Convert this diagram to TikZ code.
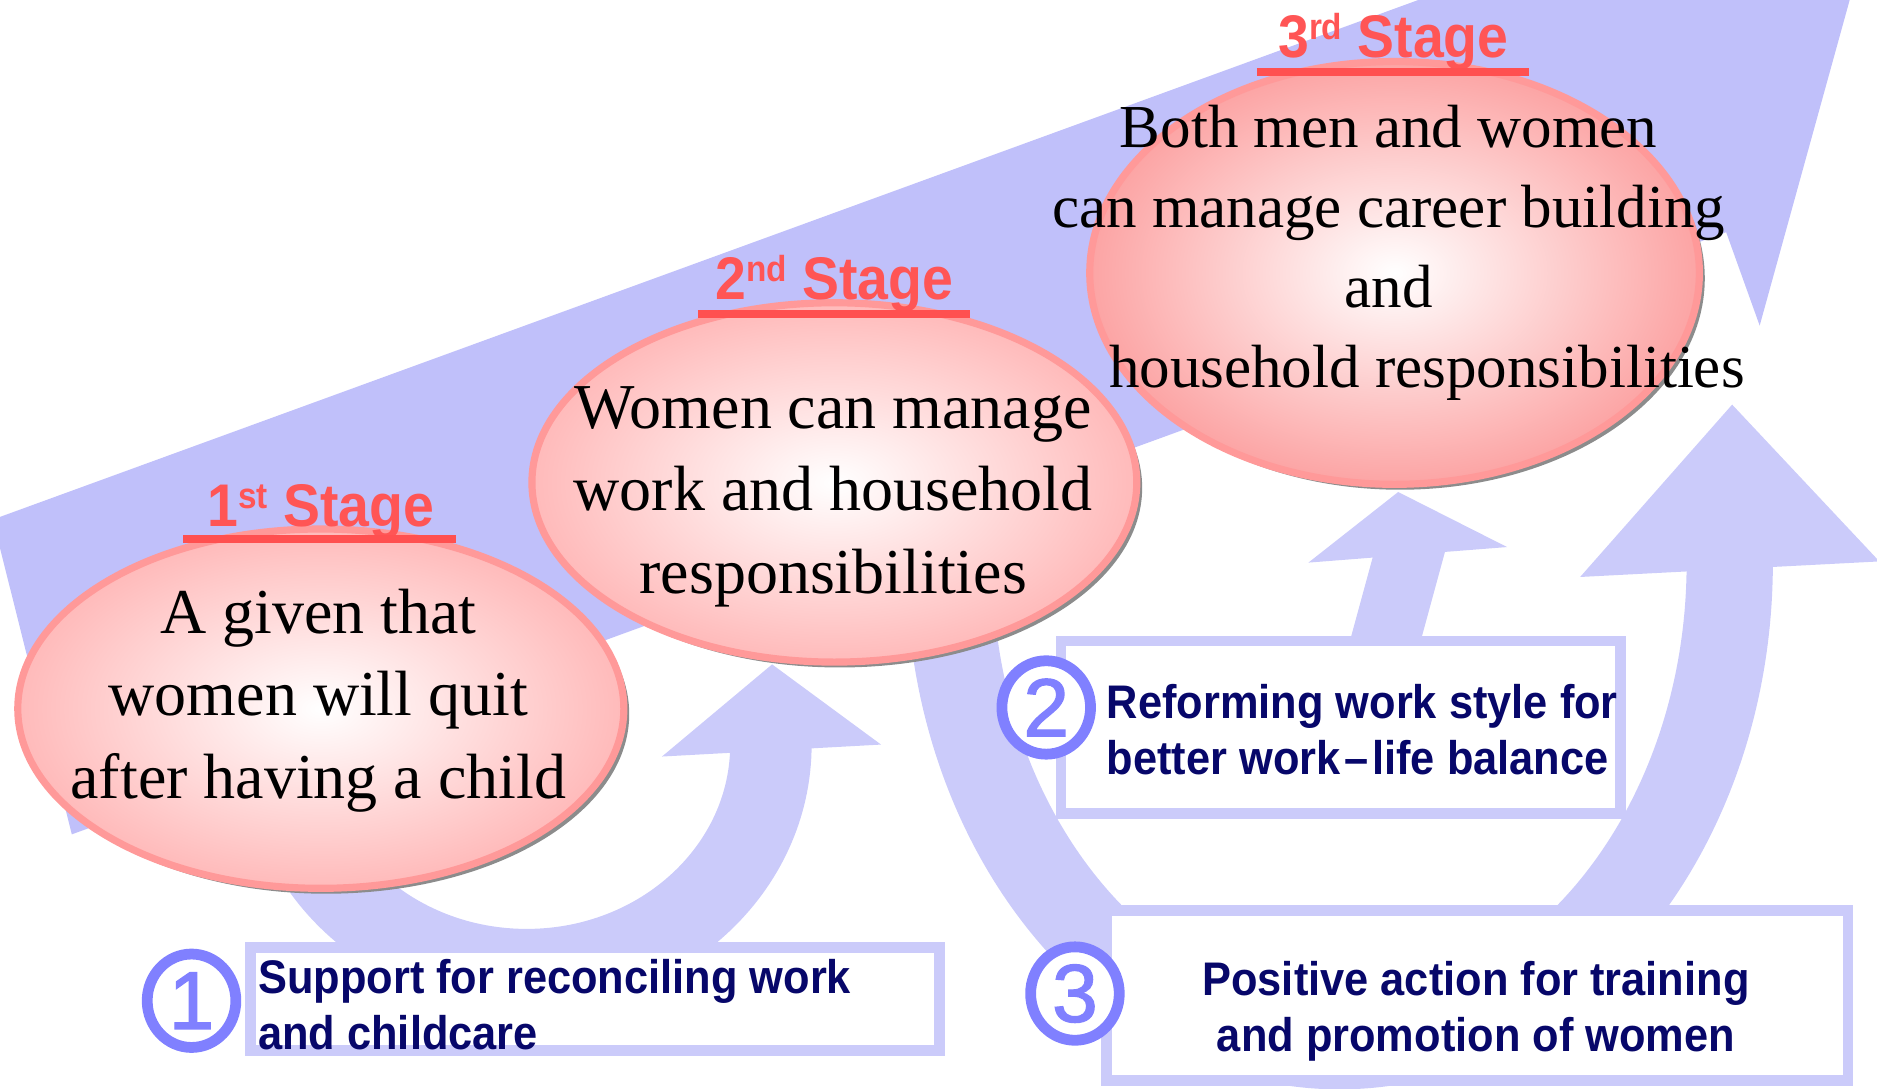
\documentclass[tikz,border=0pt]{standalone}
\usepackage{fontspec}
\setmainfont{Liberation Serif}
\newfontfamily\gothic[FakeStretch=0.92]{Liberation Sans}
\newfontfamily\ringfont[FakeBold=1.6]{Liberation Sans}
\usetikzlibrary{positioning,shapes.geometric,shadows}
\definecolor{band}{HTML}{C0C0FA}
\definecolor{lilac}{HTML}{CBCBFA}
\definecolor{rosy}{HTML}{FFBABA}
\definecolor{deeprosy}{HTML}{FCA4A4}
\definecolor{rim}{HTML}{FF9999}
\definecolor{coral}{HTML}{FF5555}
\definecolor{coralline}{HTML}{FF5050}
\definecolor{navy}{HTML}{07076A}
\definecolor{ring}{HTML}{8080FF}
\newcommand\stagesup[1]{\raisebox{0.3em}{\fontsize{8.6pt}{8.6pt}\selectfont#1}}

\begin{document}
\begin{tikzpicture}[
  x=0.01cm, y=-0.01cm,
  bubble/.style={ellipse,draw=rim,line width=1.7pt,inner sep=0,inner color=white,
    drop shadow={shadow xshift=0.045cm,shadow yshift=-0.045cm,fill=black!45,opacity=1}},
  bubbletext/.style={font=\fontsize{15.2pt}{19.6pt}\selectfont,align=center,inner sep=0},
  stagetitle/.style={font=\gothic\bfseries\fontsize{14.3pt}{16pt}\selectfont,text=coral,inner sep=0,anchor=base},
  titlerule/.style={draw=coralline,line width=0.065cm},
  measurebox/.style={draw=lilac,line width=0.09cm,fill=white,inner sep=0},
  measuretext/.style={font=\gothic\bfseries\fontsize{11.2pt}{13.3pt}\selectfont,text=navy,inner sep=0},
  numring/.style={ellipse,draw=ring,line width=0.09cm,fill=white,minimum width=0.74cm,minimum height=0.78cm,
    inner sep=0,text=ring,font=\ringfont\fontsize{19.5pt}{19.5pt}\selectfont},
  sweep/.style={draw=lilac},
  head/.style={fill=lilac}
]
\useasboundingbox (0,0) rectangle (1568,909);
\begin{scope}
  \clip (0,0) rectangle (1568,909);
  \fill[band] (-6,434) -- (1322,-50) -- (1559,-50) -- (1470,272) -- (1442,194) -- (60,697) -- cycle;
\end{scope}

% measure arrows
\draw[sweep,line width=0.68cm] (236,622) arc[start angle=180,end angle=0,x radius=204,y radius=188];
\fill[head] (553,632) -- (736,622) -- (645,555) -- cycle;
\draw[sweep,line width=0.72cm] (793,470) arc[start angle=180,end angle=0,x radius=326,y radius=404];
\fill[head] (1320,482) -- (1570,469) -- (1447,338) -- cycle;
\draw[sweep,line width=0.57cm] (1030,640) .. controls (1110,632) and (1150,600) .. (1156,540) -- (1180,452);
\fill[head] (1093,470) -- (1259,457) -- (1168,411) -- cycle;

% stages
\node[bubble,outer color=rosy,minimum width=5.06cm,minimum height=3.0cm] (stage1) at (268,592) {};
\node[bubble,outer color=rosy,minimum width=5.05cm,minimum height=3.0cm] (stage2) at (697,403) {};
\node[bubble,outer color=deeprosy,minimum width=5.09cm,minimum height=3.53cm] (stage3) at (1165,228) {};

\node[bubbletext] (text1) at (266,585) {A given that\\women will quit\\after having a child};
\node[bubbletext] (text2) at (696,415) {Women can manage\\work and household\\responsibilities};
\node[bubbletext,font=\fontsize{14.5pt}{19pt}\selectfont] (text3) at (1160,211)
  {Both men and women\\can manage career building\\and\\\hspace*{0.64cm}household responsibilities};

\node[stagetitle] (title1) at (268,440) {1\stagesup{st} Stage};
\node[stagetitle] (title2) at (697,250) {2\stagesup{nd} Stage};
\node[stagetitle] (title3) at (1164,48) {3\stagesup{rd} Stage};
\draw[titlerule] (153,450) -- (381,450);
\draw[titlerule] (583,262) -- (810,262);
\draw[titlerule] (1050,60) -- (1277,60);

% measures
\node[measurebox,minimum width=5.75cm,minimum height=0.86cm] (box1) at (497,834.5) {};
\node[measurebox,minimum width=4.67cm,minimum height=1.44cm] (box2) at (1120,607.5) {};
\node[measurebox,minimum width=6.19cm,minimum height=1.42cm] (box3) at (1234,831.5) {};

\node[measuretext,align=left,anchor=north west] (label1) at (215,801) {Support for reconciling work\\and childcare};
\node[measuretext,align=left,anchor=north west] (label2) at (924,571)
  {Reforming work style for\\better work\kern0.08em\textendash\kern0.08em life balance};
\node[measuretext,align=center,anchor=north] (label3) at (1233,802) {Positive action for training\\and promotion of women};

\node[numring] (num1) at (160,836) {1};
\node[numring] (num2) at (874,591) {2};
\node[numring] (num3) at (898,830) {3};
\end{tikzpicture}
\end{document}
